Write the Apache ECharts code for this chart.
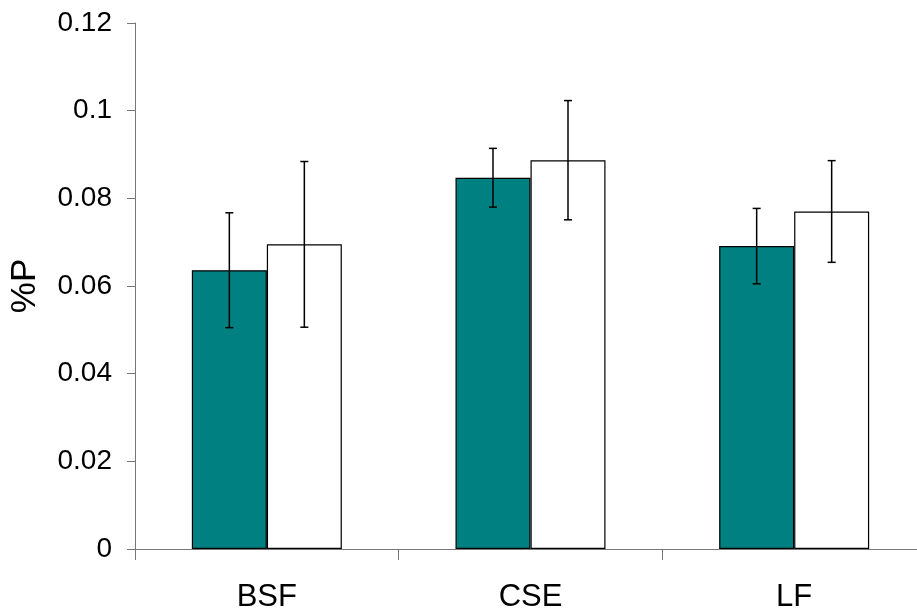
<!DOCTYPE html>
<html>
<head>
<meta charset="utf-8">
<script src="https://cdn.jsdelivr.net/npm/echarts@6/dist/echarts.min.js"></script>
<style>
html,body{margin:0;padding:0;background:#fff;}
#chart{width:917px;height:616px;}
</style>
</head>
<body>
<div id="chart"></div>
<script>
const categories = ['BSF', 'CSE', 'LF'];
const tealValues = [0.0636, 0.0847, 0.0691];
const tealErrors = [0.0131, 0.0067, 0.0086];
const whiteValues = [0.0695, 0.0887, 0.0770];
const whiteErrors = [0.0189, 0.0136, 0.0116];
const yTickLabels = ['0', '0.02', '0.04', '0.06', '0.08', '0.1', '0.12'];

const FONT = '"Liberation Sans", Arial, sans-serif';
const BAR_W = 75;

function errData(vals, errs) {
  return vals.map((v, i) => [i, v, v - errs[i], v + errs[i]]);
}
function errSeries(vals, errs, offset) {
  return {
    type: 'custom',
    z: 10,
    data: errData(vals, errs),
    renderItem: function (params, api) {
      const i = api.value(0);
      const lo = api.coord([i, api.value(2)]);
      const hi = api.coord([i, api.value(3)]);
      const x = lo[0] + offset;
      const cap = 4;
      const style = { stroke: '#000', lineWidth: 1.5 };
      return {
        type: 'group',
        children: [
          { type: 'line', shape: { x1: x, y1: lo[1], x2: x, y2: hi[1] }, style: style },
          { type: 'line', shape: { x1: x - cap, y1: lo[1], x2: x + cap, y2: lo[1] }, style: style },
          { type: 'line', shape: { x1: x - cap, y1: hi[1], x2: x + cap, y2: hi[1] }, style: style }
        ]
      };
    }
  };
}

const chart = echarts.init(document.getElementById('chart'), null, { renderer: 'canvas' });
chart.setOption({
  animation: false,
  backgroundColor: '#fff',
  grid: { left: 135, top: 23, bottom: 67, right: -9, containLabel: false, outerBoundsMode: 'none' },
  xAxis: {
    type: 'category',
    data: categories,
    boundaryGap: true,
    axisLine: { lineStyle: { color: '#777', width: 1 } },
    axisTick: { show: true, alignWithLabel: false, length: 11, lineStyle: { color: '#777' } },
    axisLabel: { color: '#000', fontSize: 31, fontFamily: FONT, margin: 33 },
    splitLine: { show: false }
  },
  yAxis: {
    type: 'value',
    min: 0,
    max: 0.12,
    interval: 0.02,
    name: '%P',
    nameLocation: 'middle',
    nameRotate: 90,
    nameGap: 92,
    nameTextStyle: { color: '#000', fontSize: 35, fontFamily: FONT },
    axisLine: { show: true, lineStyle: { color: '#777', width: 1 } },
    axisTick: { show: true, length: 8, lineStyle: { color: '#777' } },
    axisLabel: {
      color: '#000', fontSize: 28, fontFamily: FONT, margin: 23,
      formatter: function (v) { return yTickLabels[Math.round(v / 0.02)]; }
    },
    splitLine: { show: false }
  },
  series: [
    {
      type: 'bar',
      data: tealValues,
      barWidth: BAR_W,
      barGap: '0%',
      itemStyle: { color: '#008080', borderColor: '#000', borderWidth: 1.2 }
    },
    {
      type: 'bar',
      data: whiteValues,
      barWidth: BAR_W,
      barGap: '0%',
      itemStyle: { color: '#fff', borderColor: '#000', borderWidth: 1.2 }
    },
    errSeries(tealValues, tealErrors, -BAR_W / 2),
    errSeries(whiteValues, whiteErrors, BAR_W / 2)
  ]
});
</script>
</body>
</html>
